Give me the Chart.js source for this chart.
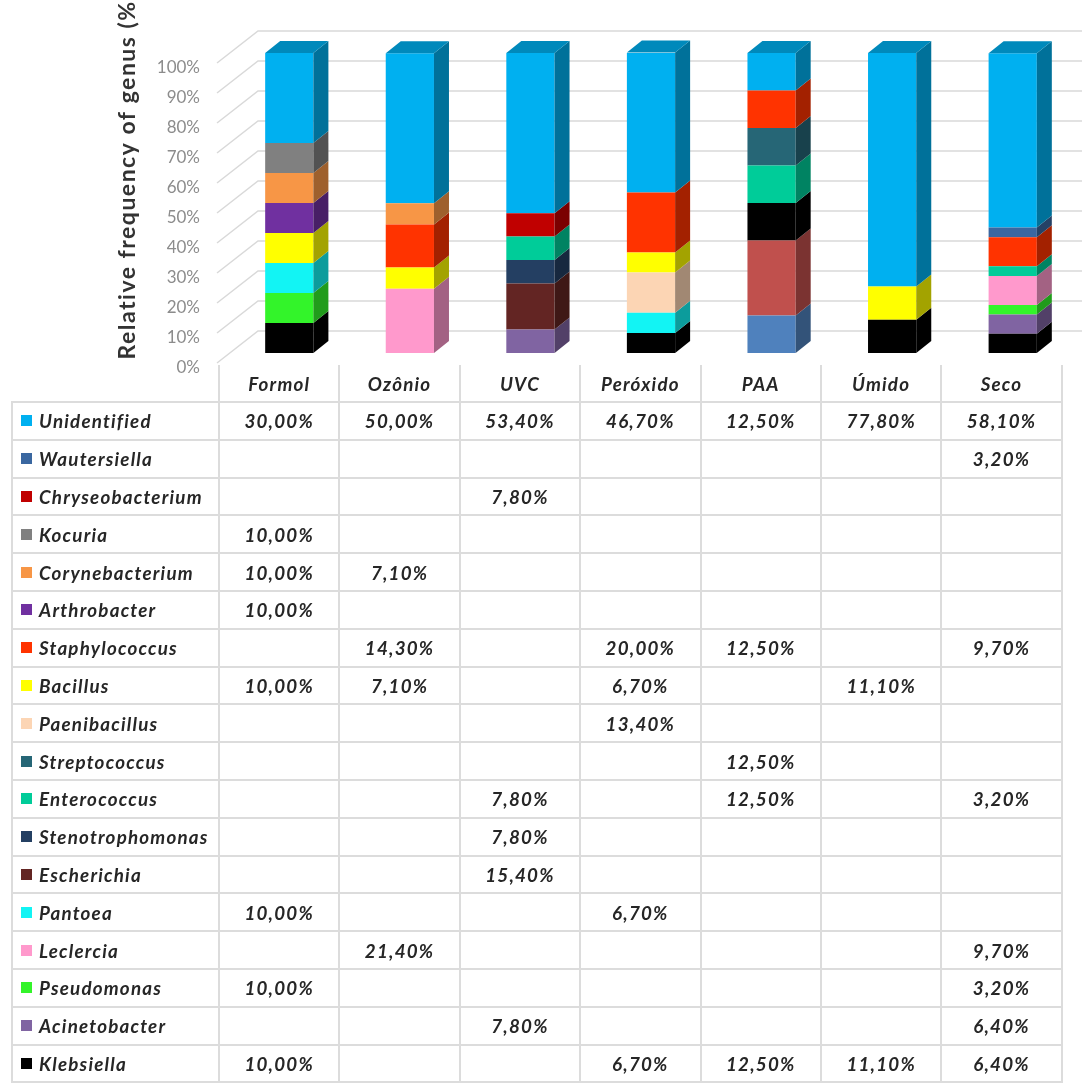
<!DOCTYPE html>
<html>
<head>
<meta charset="utf-8">
<title>Relative frequency of genus</title>
<script src="https://cdn.jsdelivr.net/npm/chart.js@4.4.1/dist/chart.umd.min.js"></script>
<style>
  html, body { margin: 0; padding: 0; background: #fff; }
  body { width: 1086px; height: 1084px; position: relative; overflow: hidden; }
  #chartBox { position: absolute; left: 0; top: 0; width: 1086px; height: 400px; }
  #genusTable {
    position: absolute; left: 11px; top: 365px;
    border-collapse: collapse; table-layout: fixed;
    font-family: Lato, "Open Sans", sans-serif; font-weight: bold; font-style: italic;
    font-size: 18.8px; color: #262626; letter-spacing: 1.2px;
  }
  #genusTable th, #genusTable td { border: 2px solid #dcdcdc; padding: 0; height: 35.8px; }
  #genusTable thead th { border-top: none; font-weight: bold; text-align: center; height: 36px; }
  #genusTable thead th.corner { border-left: none; }
  #genusTable td { text-align: center; }
  #genusTable td.genus { text-align: left; padding-left: 8px; white-space: nowrap; }
  .key { display: inline-block; width: 11px; height: 11px; margin-right: 7px; vertical-align: 2px; }
</style>
</head>
<body>
<div id="chartBox"><canvas id="chart" width="1086" height="400"></canvas></div>
<table id="genusTable">
  <colgroup id="cols"></colgroup>
  <thead><tr id="headRow"><th class="corner"></th></tr></thead>
  <tbody id="bodyRows"></tbody>
</table>
<script>
// treatments along the x axis
const categories = ['Formol', 'Ozônio', 'UVC', 'Peróxido', 'PAA', 'Úmido', 'Seco'];
const tickValues = [0, 10, 20, 30, 40, 50, 60, 70, 80, 90, 100];

// relative frequency (%) of each genus per treatment
const unidentified     = [30.0, 50.0, 53.4, 46.7, 12.5, 77.8, 58.1];
const wautersiella     = [null, null, null, null, null, null, 3.2];
const chryseobacterium = [null, null, 7.8, null, null, null, null];
const kocuria          = [10.0, null, null, null, null, null, null];
const corynebacterium  = [10.0, 7.1, null, null, null, null, null];
const arthrobacter     = [10.0, null, null, null, null, null, null];
const staphylococcus   = [null, 14.3, null, 20.0, 12.5, null, 9.7];
const bacillus         = [10.0, 7.1, null, 6.7, null, 11.1, null];
const paenibacillus    = [null, null, null, 13.4, null, null, null];
const streptococcus    = [null, null, null, null, 12.5, null, null];
const enterococcus     = [null, null, 7.8, null, 12.5, null, 3.2];
const stenotrophomonas = [null, null, 7.8, null, null, null, null];
const escherichia      = [null, null, 15.4, null, null, null, null];
const pantoea          = [10.0, null, null, 6.7, null, null, null];
const leclercia        = [null, 21.4, null, null, null, null, 9.7];
const pseudomonas      = [10.0, null, null, null, null, null, 3.2];
const acinetobacter    = [null, null, 7.8, null, null, null, 6.4];
const klebsiella       = [10.0, null, null, 6.7, 12.5, 11.1, 6.4];

// two unlabelled segments at the foot of the PAA column
const paaLower = [null, null, null, null, 12.5, null, null];
const paaUpper = [null, null, null, null, 25.0, null, null];

// table order (top to bottom); the stack is built in reverse
const genusNames = ['Unidentified', 'Wautersiella', 'Chryseobacterium', 'Kocuria', 'Corynebacterium',
  'Arthrobacter', 'Staphylococcus', 'Bacillus', 'Paenibacillus', 'Streptococcus', 'Enterococcus',
  'Stenotrophomonas', 'Escherichia', 'Pantoea', 'Leclercia', 'Pseudomonas', 'Acinetobacter', 'Klebsiella'];
const genusData = [unidentified, wautersiella, chryseobacterium, kocuria, corynebacterium,
  arthrobacter, staphylococcus, bacillus, paenibacillus, streptococcus, enterococcus,
  stenotrophomonas, escherichia, pantoea, leclercia, pseudomonas, acinetobacter, klebsiella];
const genusColors = ['#00b0f0', '#3a67a0', '#c00000', '#808080', '#f79646',
  '#7030a0', '#ff3300', '#ffff00', '#fcd5b4', '#266676', '#00cc99',
  '#243f62', '#632523', '#12f4f4', '#ff99cc', '#33f42a', '#8064a2', '#000000'];

function shade(hex, f) {
  const n = parseInt(hex.slice(1), 16);
  const r = Math.round(((n >> 16) & 255) * f);
  const g = Math.round(((n >> 8) & 255) * f);
  const b = Math.round((n & 255) * f);
  return `rgb(${r},${g},${b})`;
}

const datasets = [
  { label: '', data: paaLower, backgroundColor: '#4f81bd' },
  { label: '', data: paaUpper, backgroundColor: '#c0504d' }
];
for (let i = genusNames.length - 1; i >= 0; i--) {
  datasets.push({ label: genusNames[i], data: genusData[i], backgroundColor: genusColors[i] });
}

// fake 3D: back wall, side wall and the depth faces of the columns
const BAR_DX = 15, BAR_DY = -12;
const depth3d = {
  id: 'depth3d',
  beforeDatasetsDraw(chart) {
    const { ctx, chartArea, scales: { y } } = chart;
    ctx.save();
    ctx.strokeStyle = '#d9d9d9';
    ctx.lineWidth = 1.5;
    tickValues.forEach(v => {
      const py = y.getPixelForValue(v);
      ctx.beginPath();
      ctx.moveTo(chartArea.left - 12, py + 10);
      ctx.lineTo(chartArea.left + 29, py - 22);
      ctx.lineTo(chart.width - 4, py - 22);
      ctx.stroke();
    });
    ctx.restore();
  },
  afterDatasetsDraw(chart) {
    const ctx = chart.ctx;
    ctx.save();
    const topIdx = categories.map(() => -1);
    chart.data.datasets.forEach((ds, di) => {
      const meta = chart.getDatasetMeta(di);
      meta.data.forEach((bar, i) => {
        const v = ds.data[i];
        if (!v) return;
        topIdx[i] = di;
        const { x, y, base, width } = bar.getProps(['x', 'y', 'base', 'width'], true);
        const r = x + width / 2;
        ctx.fillStyle = shade(ds.backgroundColor, 0.64);
        ctx.beginPath();
        ctx.moveTo(r, y);
        ctx.lineTo(r + BAR_DX, y + BAR_DY);
        ctx.lineTo(r + BAR_DX, base + BAR_DY);
        ctx.lineTo(r, base);
        ctx.closePath();
        ctx.fill();
      });
    });
    topIdx.forEach((di, i) => {
      if (di < 0) return;
      const ds = chart.data.datasets[di];
      const bar = chart.getDatasetMeta(di).data[i];
      const { x, y, width } = bar.getProps(['x', 'y', 'width'], true);
      const l = x - width / 2, r = x + width / 2;
      ctx.fillStyle = shade(ds.backgroundColor, 0.78);
      ctx.beginPath();
      ctx.moveTo(l, y);
      ctx.lineTo(l + BAR_DX, y + BAR_DY);
      ctx.lineTo(r + BAR_DX, y + BAR_DY);
      ctx.lineTo(r, y);
      ctx.closePath();
      ctx.fill();
    });
    ctx.restore();
  },
  afterDraw(chart) {
    const ctx = chart.ctx;
    ctx.save();
    ctx.translate(128, 176);
    ctx.rotate(-Math.PI / 2);
    ctx.font = 'bold 23px Lato, sans-serif';
    ctx.letterSpacing = '1.5px';
    ctx.fillStyle = '#333333';
    ctx.textAlign = 'center';
    ctx.textBaseline = 'middle';
    ctx.fillText('Relative frequency of genus (%)', 0, 0);
    ctx.restore();
  }
};

new Chart(document.getElementById('chart'), {
  type: 'bar',
  data: { labels: categories, datasets },
  options: {
    responsive: false,
    animation: false,
    layout: { padding: { top: 53, bottom: 47, left: 0, right: 13 } },
    categoryPercentage: 0.8,
    barPercentage: 0.5,
    plugins: { legend: { display: false }, tooltip: { enabled: false } },
    scales: {
      x: { stacked: true, display: false },
      y: {
        stacked: true,
        min: 0,
        max: 100,
        afterFit(scale) { scale.width = 229; },
        grid: { display: false, drawTicks: false },
        border: { display: false },
        ticks: {
          stepSize: 10,
          padding: 29,
          labelOffset: 15,
          color: '#8c8c8c',
          font: { family: 'Lato', size: 17 },
          callback: v => v + '%'
        }
      }
    }
  },
  plugins: [depth3d]
});

// data table under the plot
const fmt = v => v.toFixed(2).replace('.', ',') + '%';
const cols = document.getElementById('cols');
const colLabel = document.createElement('col');
colLabel.style.width = '207px';
cols.appendChild(colLabel);
categories.forEach(c => {
  const col = document.createElement('col');
  col.style.width = '120.4px';
  cols.appendChild(col);
  const th = document.createElement('th');
  th.textContent = c;
  document.getElementById('headRow').appendChild(th);
});
const body = document.getElementById('bodyRows');
genusNames.forEach((name, gi) => {
  const tr = document.createElement('tr');
  const tdName = document.createElement('td');
  tdName.className = 'genus';
  tdName.innerHTML = `<span class="key" style="background:${genusColors[gi]}"></span>${name}`;
  tr.appendChild(tdName);
  genusData[gi].forEach(v => {
    const td = document.createElement('td');
    td.textContent = v == null ? '' : fmt(v);
    tr.appendChild(td);
  });
  body.appendChild(tr);
});
</script>
</body>
</html>
